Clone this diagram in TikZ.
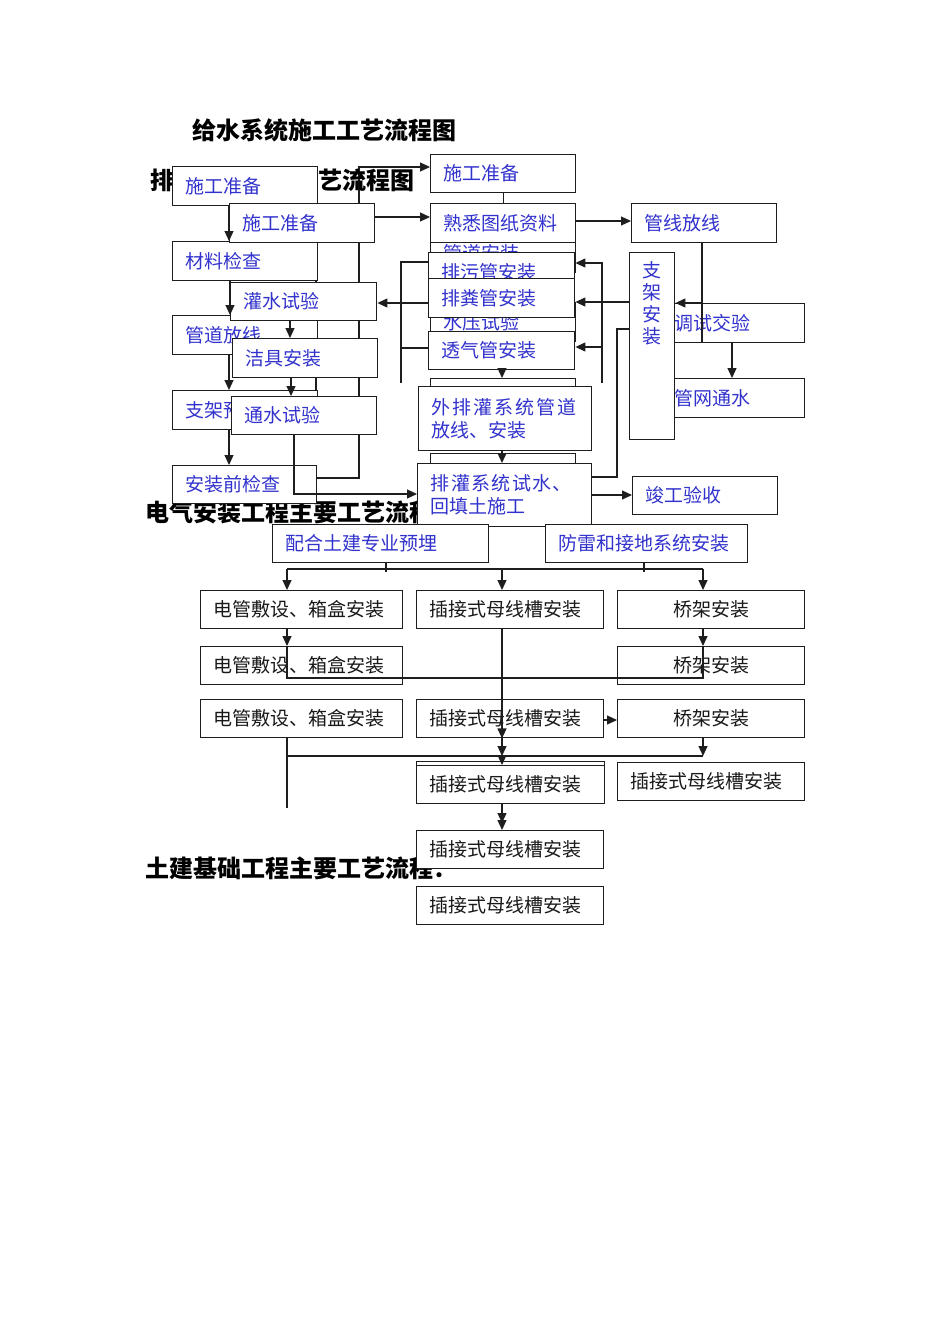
\documentclass[tikz,border=0pt]{standalone}
\usepackage{fontspec}
\setmainfont{Noto Sans CJK SC}
\newfontfamily\wideA[LetterSpace=10.5]{Noto Sans CJK SC}
\newfontfamily\wideB[LetterSpace=7]{Noto Sans CJK SC}
\usetikzlibrary{arrows.meta}
\pgfdeclarelayer{bgpaper}
\pgfdeclarelayer{behind}
\pgfsetlayers{bgpaper,behind,main}
\definecolor{tblue}{RGB}{50,50,205}
\definecolor{tdark}{RGB}{25,25,25}
\definecolor{lcol}{RGB}{30,30,30}
\newcommand\mkbox[7][]{%
  \pgfmathsetmacro\bxw{#5-#3}%
  \pgfmathsetmacro\bxh{#6-#4}%
  \pgfmathsetmacro\bxt{#5-#3-26}%
  \node[bx, minimum width=\bxw pt, minimum height=\bxh pt, text width=\bxt pt, #1] (#2) at (#3,#4) {#7};}
\begin{document}
\begin{tikzpicture}[x=1pt,y=-1pt,
  bx/.style={draw=lcol, fill=white, line width=1.4pt, anchor=north west, inner xsep=13pt, inner ysep=0pt,
    align=left, text=tblue, font=\fontsize{19}{23}\selectfont},
  dk/.style={text=tdark},
  ln/.style={draw=lcol, line width=1.2pt},
  arr/.style={ln, -{Triangle[length=10pt,width=9pt]}},
  ttl/.style={anchor=west, inner sep=0pt, text=black, font=\bfseries\fontsize{24}{28}\selectfont}]
\useasboundingbox (0,0) rectangle (950,1344);
\begin{pgfonlayer}{bgpaper}
\fill[white] (0,0) rectangle (950,1344);
\end{pgfonlayer}

% titles
\node[ttl] (t1) at (192,130) {给水系统施工工艺流程图};
\node[ttl] (t2) at (150,180) {排水系统施工工艺流程图};
\node[ttl] (t3) at (145,512) {电气安装工程主要工艺流程：};
\node[ttl] (t4) at (145,868) {土建基础工程主要工艺流程：};

% left group
\mkbox{A}{172}{166}{317}{205}{施工准备}
\mkbox{C}{172}{241}{317}{280}{材料检查}
\mkbox{B}{229}{203}{374}{242}{施工准备}
\mkbox{E}{172}{315}{317}{354}{管道放线}
\mkbox{D}{230}{282}{376}{320}{灌水试验}
\mkbox{F}{232}{338}{377}{377}{洁具安装}
\mkbox{G}{172}{390}{317}{429}{支架预埋}
\mkbox{H}{231}{396}{376}{434}{通水试验}
\mkbox{I}{172}{465}{316}{503}{安装前检查}

% centre group
\mkbox{SG}{430}{154}{575}{192}{施工准备}
\mkbox{GD}{430}{233}{575}{272}{管道安装}
\mkbox{SX}{430}{203}{575}{242}{熟悉图纸资料}
\mkbox{SY}{430}{302}{575}{341}{水压试验}
\mkbox{PW}{428}{252}{574}{291}{排污管安装}
\mkbox{PF}{428}{278}{574}{317}{排粪管安装}
\mkbox{TQ}{428}{331}{574}{369}{透气管安装}
\mkbox{K1}{430}{378}{575}{417}{}
\mkbox{WP}{418}{386}{591}{450}{{\wideA 外排灌系统管道}\\放线、安装}
\mkbox{K2}{430}{453}{575}{492}{}
\mkbox{PG}{417}{463}{591}{526}{{\wideB 排灌系统试水、}\\回填土施工}

% right group
\mkbox{GX}{631}{203}{776}{242}{管线放线}
\mkbox{TS}{661}{303}{804}{342}{调试交验}
\mkbox{GW}{661}{378}{804}{417}{管网通水}
\mkbox{ZJ}{629}{252}{674}{439}{}
\node[inner sep=0pt, align=center, text=tblue, font=\fontsize{19}{22}\selectfont] (ZJt) at (652,303) {支\\架\\安\\装};
\mkbox{JG}{632}{476}{777}{514}{竣工验收}

% electrical
\mkbox{PH}{272}{524}{488}{562}{配合土建专业预埋}
\mkbox{FL}{545}{524}{747}{562}{防雷和接地系统安装}
\mkbox[dk]{R1a}{200}{590}{402}{628}{电管敷设、箱盒安装}
\mkbox[dk]{R1b}{416}{590}{603}{628}{插接式母线槽安装}
\mkbox[dk,align=center]{R1c}{617}{590}{804}{628}{桥架安装}
\mkbox[dk]{R2a}{200}{646}{402}{684}{电管敷设、箱盒安装}
\mkbox[dk,align=center]{R2c}{617}{646}{804}{684}{桥架安装}
\mkbox[dk]{R3a}{200}{699}{402}{737}{电管敷设、箱盒安装}
\mkbox[dk]{R3b}{416}{699}{603}{737}{插接式母线槽安装}
\mkbox[dk,align=center]{R3c}{617}{699}{804}{737}{桥架安装}
\mkbox[dk]{R4x}{416}{761}{604}{800}{}
\mkbox[dk]{R4b}{416}{765}{604}{803}{插接式母线槽安装}
\mkbox[dk]{R4c}{617}{762}{804}{800}{插接式母线槽安装}
\mkbox[dk]{R5}{416}{830}{603}{868}{插接式母线槽安装}
\mkbox[dk]{R6}{416}{886}{603}{924}{插接式母线槽安装}

% connectors hidden behind boxes
\begin{pgfonlayer}{behind}
\draw[ln] (316,0 |- A.south) -- (316,0 |- G.north);
\draw[arr] (I.east |- 0,478) -| (359,167) -- (SG.west |- 0,167);
\end{pgfonlayer}

% left group connectors
\draw[arr] (B.west |- A.south) -- (B.west |- C.north);
\draw[arr] (D.west |- C.south) -- (D.west |- E.north);
\draw[arr] (B.west |- E.south) -- (B.west |- G.north);
\draw[arr] (B.west |- G.south) -- (B.west |- I.north);
\draw[arr] (290,0 |- D.south) -- (290,0 |- F.north);
\draw[arr] (291,0 |- F.south) -- (291,0 |- H.north);
\draw[arr] (294,0 |- H.south) |- (PG.west |- 0,494);
\draw[arr] (B.east |- 0,217) -- (SX.west |- 0,217);

% centre connectors
\draw[ln] (SG.south) -- (SX.north);
\draw[arr] (SX.east |- 0,221) -- (GX.west |- 0,221);
\draw[ln] (PW.west |- 0,262) -| (401,383);
\draw[ln] (401,348) -- (TQ.west |- 0,348);
\draw[arr] (PF.west |- 0,303) -- (D.east |- 0,303);
\draw[arr] (502,0 |- TQ.south) -- (502,0 |- K1.north);
\draw[arr] (502,0 |- WP.south) -- (502,0 |- PG.north);
\draw[arr] (602,383) |- (PW.east |- 0,263);
\draw[arr] (602,347) -- (TQ.east |- 0,347);
\draw[arr] (ZJ.west |- 0,302) -- (PF.east |- 0,302);
\draw[ln] (PG.east |- 0,477) -| (617,329) -- (ZJ.west |- 0,329);
\draw[arr] (PG.east |- 0,495) -- (JG.west |- 0,495);

% right connectors
\draw[ln] (702,0 |- GX.south) -- (702,0 |- TS.south);
\draw[arr] (702,0 |- TS.north) -- (ZJ.east |- TS.north);
\draw[arr] (732,0 |- TS.south) -- (732,0 |- GW.north);

% electrical connectors
\draw[ln] (386,0 |- PH.south) -- (386,572);
\draw[ln] (644,0 |- FL.south) -- (644,572);
\draw[ln] (287,569) -- (703,569);
\draw[arr] (287,569) -- (287,0 |- R1a.north);
\draw[arr] (502,569) -- (502,0 |- R1b.north);
\draw[arr] (703,569) -- (703,0 |- R1c.north);
\draw[arr] (287,0 |- R1a.south) -- (287,0 |- R2a.north);
\draw[arr] (703,0 |- R1c.south) -- (703,0 |- R2c.north);
\draw[ln] (287,0 |- R2a.north) |- (703,678) -- (703,0 |- R2c.north);
\draw[arr] (502,0 |- R1b.south) -- (502,0 |- R3b.south);
\draw[arr] (502,0 |- R3b.south) -- (502,756);
\draw[arr] (502,756) -- (502,0 |- R4b.north);
\draw[arr] (R3b.east |- 0,720) -- (R3c.west |- 0,720);
\draw[ln] (287,756) -- (703,756);
\draw[ln] (287,0 |- R3a.south) -- (287,808);
\draw[arr] (703,0 |- R3c.south) -- (703,756);
\draw[arr] (502,0 |- R4b.south) -- (502,823);
\draw[arr] (502,823) -- (502,0 |- R5.north);
\end{tikzpicture}
\end{document}
